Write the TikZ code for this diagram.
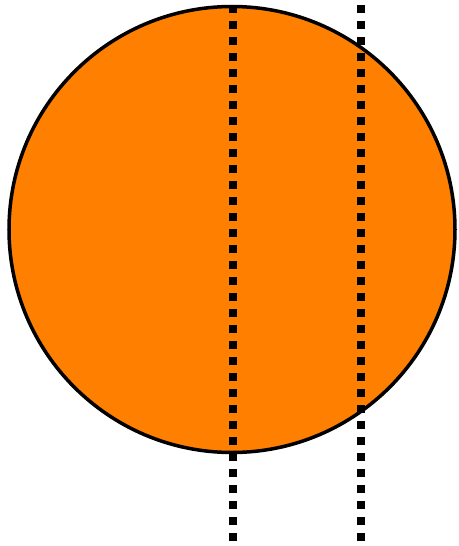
\documentclass[tikz,border=0pt]{standalone}
\begin{document}
\begin{tikzpicture}[x=1pt,y=-1pt,
  disc/.style={draw=black,line width=3.5pt,fill={rgb,255:red,255;green,127;blue,0}},
  dotline/.style={line width=8pt,dash pattern=on 8pt off 8pt}]
\useasboundingbox (0,0) rectangle (458,546);
\node[disc,circle,minimum size=446pt,inner sep=0pt] (c) at (232,229.5) {};
\coordinate (a1) at (233,5);
\coordinate (a2) at (233,542);
\coordinate (b1) at (361,5);
\coordinate (b2) at (361,542);
\draw[dotline] (a1) -- (a2);
\draw[dotline] (b1) -- (b2);
\end{tikzpicture}
\end{document}
